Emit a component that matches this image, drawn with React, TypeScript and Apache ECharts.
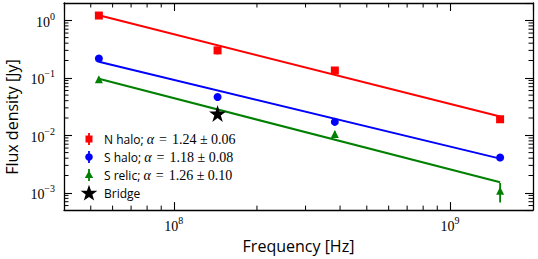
import React, { useEffect, useRef } from 'react';
import * as echarts from 'echarts';

// ---- data ----
const frequencies = [53.5e6, 144e6, 383e6, 1.52e9];
const nHaloFlux = [1.21, 0.30, 0.134, 0.019];
const nHaloErr = [0.12, 0.045, 0.013, 0.002];
const sHaloFlux = [0.217, 0.0463, 0.0171, 0.0041];
const sHaloErr = [0.02, 0.005, 0.0017, 0.0004];
const sRelicFreq = [53.5e6, 383e6, 1.52e9];
const sRelicFlux = [0.094, 0.0105, 0.00108];
const sRelicErr = [0.009, 0.0012, 0.0004];
const bridgeFreq = [144e6];
const bridgeFlux = [0.0239];
const fitFreq = [53.5e6, 1.52e9];
const nHaloFit = [1.22, 0.0212];
const sHaloFit = [0.19, 0.00393];
const sRelicFit = [0.096, 0.00152];
const legendNames = ['N halo; ', 'S halo; ', 'S relic; ', 'Bridge'];
const legendAlpha = ['1.24 ± 0.06', '1.18 ± 0.08', '1.26 ± 0.10', ''];
const xMinorTicks = [5e7, 6e7, 7e7, 8e7, 9e7, 2e8, 3e8, 4e8, 5e8, 6e8, 7e8, 8e8, 9e8];
const yMinorTicks = [
  6e-4, 7e-4, 8e-4, 9e-4,
  2e-3, 3e-3, 4e-3, 5e-3, 6e-3, 7e-3, 8e-3, 9e-3,
  2e-2, 3e-2, 4e-2, 5e-2, 6e-2, 7e-2, 8e-2, 9e-2,
  2e-1, 3e-1, 4e-1, 5e-1, 6e-1, 7e-1, 8e-1, 9e-1,
];

const RED = '#ff0000';
const BLUE = '#0000ff';
const GREEN = '#008000';
const STAR = 'path://M50,0 L61.2,34.5 L97.6,34.5 L68.2,55.9 L79.4,90.5 L50,69.1 L20.6,90.5 L31.8,55.9 L2.4,34.5 L38.8,34.5 Z';
const SERIF = '"Liberation Serif", "DejaVu Serif", serif';
const SANS = '"Open Sans", "DejaVu Sans", sans-serif';

function pow10Label(value: number) {
  const e = Math.log10(value);
  const r = Math.round(e);
  if (Math.abs(e - r) > 1e-6) return '';
  const exp = r < 0 ? '\u2212' + Math.abs(r) : String(r);
  return '{b|10}{s|' + exp + '}';
}

const labelRich = {
  b: { fontFamily: SERIF, fontSize: 14, color: '#000', lineHeight: 18, verticalAlign: 'bottom' },
  s: { fontFamily: SERIF, fontSize: 10, color: '#000', lineHeight: 18, verticalAlign: 'top' },
};

function errSeries(xs: number[], ys: number[], es: number[], color: string) {
  return {
    type: 'custom',
    silent: true,
    z: 3,
    data: xs.map((x, i) => [x, ys[i], es[i]]),
    renderItem: (params: any, api: any) => {
      const x = api.value(0), y = api.value(1), e = api.value(2);
      const p1 = api.coord([x, y - e]);
      const p2 = api.coord([x, y + e]);
      return {
        type: 'line',
        shape: { x1: p1[0], y1: p1[1], x2: p2[0], y2: p2[1] },
        style: { stroke: color, lineWidth: 1.8 },
      };
    },
  };
}

function starPoints(cx: number, cy: number, R: number, r: number) {
  const pts: number[][] = [];
  for (let i = 0; i < 10; i++) {
    const a = -Math.PI / 2 + (i * Math.PI) / 5;
    const rad = i % 2 === 0 ? R : r;
    pts.push([cx + rad * Math.cos(a), cy + rad * Math.sin(a)]);
  }
  return pts;
}

function legendGraphic() {
  const x0 = 89;
  const ys = [139, 157, 175, 193];
  const colors = [RED, BLUE, GREEN, '#000'];
  const children: any[] = [];
  ys.forEach((y, i) => {
    const c = colors[i];
    if (i < 3) {
      children.push({ type: 'line', shape: { x1: x0, y1: y - 6, x2: x0, y2: y + 6 }, style: { stroke: c, lineWidth: 1.8 } });
    }
    if (i === 0) children.push({ type: 'rect', shape: { x: x0 - 3.5, y: y - 3.5, width: 7, height: 7 }, style: { fill: c } });
    if (i === 1) children.push({ type: 'circle', shape: { cx: x0, cy: y, r: 3.8 }, style: { fill: c } });
    if (i === 2) children.push({ type: 'polygon', shape: { points: [[x0, y - 4.5], [x0 + 4.2, y + 3], [x0 - 4.2, y + 3]] }, style: { fill: c } });
    if (i === 3) children.push({ type: 'polygon', shape: { points: starPoints(x0, y + 0.5, 8.8, 3.5) }, style: { fill: c } });
    const txt = legendAlpha[i]
      ? '{t|' + legendNames[i] + '}{a|\u03b1}{e|=}{m|' + legendAlpha[i] + '}'
      : '{t|' + legendNames[i] + '}';
    children.push({
      type: 'text',
      x: 104,
      y: y,
      style: {
        text: txt,
        verticalAlign: 'middle',
        align: 'left',
        rich: {
          t: { fontFamily: SANS, fontSize: 12, fill: '#000' },
          a: { fontFamily: SERIF, fontStyle: 'italic', fontSize: 14, fill: '#000' },
          e: { fontFamily: SERIF, fontSize: 14, fill: '#000', padding: [0, 5, 0, 5] },
          m: { fontFamily: SERIF, fontSize: 14, fill: '#000' },
        },
      },
    });
  });
  return children;
}

export default function App() {
  const ref = useRef<HTMLDivElement>(null);
  useEffect(() => {
    if (!ref.current) return;
    const chart = echarts.init(ref.current, undefined, { renderer: 'svg' });
    const axisLine = { show: true, onZero: false, lineStyle: { color: '#000', width: 1.3 } };
    const majorTick = { show: true, inside: true, length: 8, lineStyle: { color: '#000', width: 1.1 } };
    const xBase = { type: 'log', logBase: 10, min: 4e7, max: 2e9, splitLine: { show: false }, axisLine, axisTick: majorTick };
    const yBase = { type: 'log', logBase: 10, min: 5e-4, max: 2, splitLine: { show: false }, axisLine, axisTick: majorTick };
    chart.setOption({
      animation: false,
      grid: { left: 64, right: 5, top: 3, bottom: 48, containLabel: false },
      xAxis: [
        {
          ...xBase,
          position: 'bottom',
          name: 'Frequency [Hz]',
          nameLocation: 'middle',
          nameGap: 23,
          nameTextStyle: { fontFamily: SANS, fontSize: 16, color: '#000' },
          axisLabel: { show: true, margin: 5, formatter: pow10Label, rich: labelRich, showMinLabel: false, showMaxLabel: false },
        },
        { ...xBase, position: 'top', axisLabel: { show: false } },
      ],
      yAxis: [
        {
          ...yBase,
          position: 'left',
          axisLabel: { show: true, margin: 9, formatter: pow10Label, rich: labelRich, showMinLabel: false, showMaxLabel: false },
        },
        { ...yBase, position: 'right', axisLabel: { show: false } },
      ],
      graphic: [
        {
          type: 'text',
          x: 11.5,
          y: 117,
          rotation: Math.PI / 2,
          style: { text: 'Flux density [Jy]', fontFamily: SANS, fontSize: 16, fill: '#000', align: 'center', verticalAlign: 'middle' },
        },
        { type: 'group', children: legendGraphic() },
      ],
      series: [
        {
          type: 'custom',
          silent: true,
          z: 1,
          data: [...xMinorTicks.map((v) => [v, 1, 0]), ...yMinorTicks.map((v) => [1e8, v, 1])],
          renderItem: (params: any, api: any) => {
            const cs = params.coordSys;
            const p = api.coord([api.value(0), api.value(1)]);
            const L = 4.5;
            const st = { stroke: '#000', lineWidth: 1 };
            if (api.value(2) === 0) {
              const b = cs.y + cs.height;
              return {
                type: 'group',
                children: [
                  { type: 'line', shape: { x1: p[0], y1: b, x2: p[0], y2: b - L }, style: st },
                  { type: 'line', shape: { x1: p[0], y1: cs.y, x2: p[0], y2: cs.y + L }, style: st },
                ],
              };
            }
            const r = cs.x + cs.width;
            return {
              type: 'group',
              children: [
                { type: 'line', shape: { x1: cs.x, y1: p[1], x2: cs.x + L, y2: p[1] }, style: st },
                { type: 'line', shape: { x1: r, y1: p[1], x2: r - L, y2: p[1] }, style: st },
              ],
            };
          },
        },
        { type: 'line', z: 2, symbol: 'none', data: fitFreq.map((x, i) => [x, nHaloFit[i]]), lineStyle: { color: RED, width: 2 } },
        { type: 'line', z: 2, symbol: 'none', data: fitFreq.map((x, i) => [x, sHaloFit[i]]), lineStyle: { color: BLUE, width: 2 } },
        { type: 'line', z: 2, symbol: 'none', data: fitFreq.map((x, i) => [x, sRelicFit[i]]), lineStyle: { color: GREEN, width: 2 } },
        errSeries(frequencies, nHaloFlux, nHaloErr, RED),
        errSeries(frequencies, sHaloFlux, sHaloErr, BLUE),
        errSeries(sRelicFreq, sRelicFlux, sRelicErr, GREEN),
        { name: 'N halo', type: 'scatter', z: 4, symbol: 'rect', symbolSize: 8, itemStyle: { color: RED, opacity: 1 }, data: frequencies.map((x, i) => [x, nHaloFlux[i]]) },
        { name: 'S halo', type: 'scatter', z: 4, symbol: 'circle', symbolSize: 8, itemStyle: { color: BLUE, opacity: 1 }, data: frequencies.map((x, i) => [x, sHaloFlux[i]]) },
        { name: 'S relic', type: 'scatter', z: 4, symbol: 'triangle', symbolSize: 8, itemStyle: { color: GREEN, opacity: 1 }, data: sRelicFreq.map((x, i) => [x, sRelicFlux[i]]) },
        { name: 'Bridge', type: 'scatter', z: 5, symbol: STAR, symbolSize: 17, itemStyle: { color: '#000', opacity: 1 }, data: bridgeFreq.map((x, i) => [x, bridgeFlux[i]]) },
      ],
    });
    return () => chart.dispose();
  }, []);
  return <div ref={ref} style={{ position: 'absolute', left: 0, top: 0, width: 538, height: 259 }} />;
}
